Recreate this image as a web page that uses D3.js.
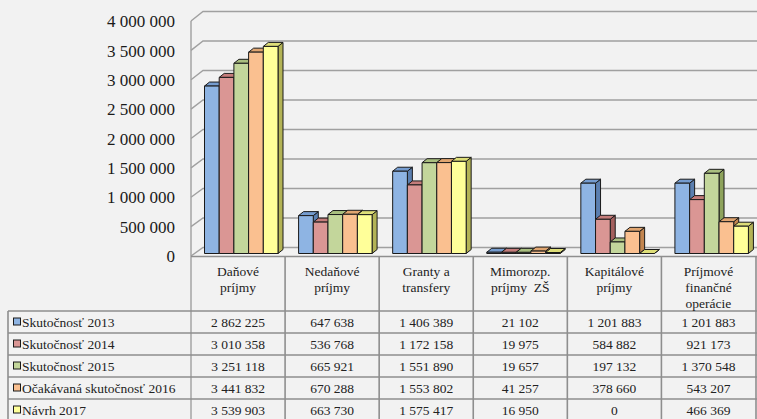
<!DOCTYPE html>
<html>
<head>
<meta charset="utf-8">
<script src="https://cdn.jsdelivr.net/npm/d3@7"></script>
<style>
  html, body { margin: 0; padding: 0; background: #f2f2f2; }
  .chart svg { display: block; }
  .chart text { font-family: 'Liberation Serif', 'Times New Roman', serif; }
</style>
</head>
<body>
<div class="chart"></div>
<script>
// data
const categories = [
  ['Daňové', 'príjmy'],
  ['Nedaňové', 'príjmy'],
  ['Granty a', 'transfery'],
  ['Mimorozp.', 'príjmy  ZŠ'],
  ['Kapitálové', 'príjmy'],
  ['Príjmové', 'finančné', 'operácie']
];
const seriesNames = ['Skutočnosť 2013', 'Skutočnosť 2014', 'Skutočnosť 2015',
                     'Očakávaná skutočnosť 2016', 'Návrh 2017'];
const values2013 = [2862225, 647638, 1406389, 21102, 1201883, 1201883];
const values2014 = [3010358, 536768, 1172158, 19975, 584882, 921173];
const values2015 = [3251118, 665921, 1551890, 19657, 197132, 1370548];
const values2016 = [3441832, 670288, 1553802, 41257, 378660, 543207];
const values2017 = [3539903, 663730, 1575417, 16950, 0, 466369];
const yTicks = [0, 500000, 1000000, 1500000, 2000000, 2500000, 3000000, 3500000, 4000000];

const seriesValues = [values2013, values2014, values2015, values2016, values2017];
const frontColors = ['#8eb4e3', '#da9694', '#c3d69b', '#fac090', '#ffff99'];
const topColors = ['#759ccf', '#c47c7a', '#a9bf7f', '#e0a570', '#dede78'];
const sideColors = ['#5b7fb0', '#a4605e', '#8ea35c', '#c2854f', '#b3b356'];

function drawChart() {
  const width = 757;
  const height = 419;
  const depth = {x: 12, y: -8.5};      // side wall depth
  const barDepth = {x: 5, y: -4};      // bar depth
  const grid = '#a0a0a0';
  const line = '#8e8e8e';

  const loc = d3.formatLocale({decimal: ',', thousands: '\u00a0', grouping: [3], currency: ['', '']});
  const fmt = loc.format(',d');

  const svg = d3.select('.chart')
                .append('svg:svg')
                .attr('width', width)
                .attr('height', height)
                .attr('viewBox', [0, 0, width, height]);

  const x = d3.scaleBand()
              .domain(d3.range(categories.length))
              .range([191, 755.5]);

  const xs = d3.scaleBand()
               .domain(d3.range(seriesNames.length))
               .range([13.5, 13.5 + 73.5]);

  const yFront = d3.scaleLinear().domain([0, 4000000]).range([256, 21]);
  const yBack = d3.scaleLinear().domain([0, 4000000]).range([247.5, 11.5]);
  const yBar = d3.scaleLinear().domain([0, 4000000]).range([253.5, 19.5]);

  // back wall gridlines + side wall
  const walls = svg.append('svg:g')
                   .attr('fill', 'none')
                   .attr('stroke', grid)
                   .attr('stroke-width', 1.4);

  walls.selectAll('polyline')
       .data(yTicks)
       .enter().append('svg:polyline')
       .attr('points', d => `191,${yFront(d)} ${191 + depth.x},${yBack(d)} ${width},${yBack(d)}`);

  walls.append('svg:line')
       .attr('x1', 191).attr('x2', 191)
       .attr('y1', yFront(4000000)).attr('y2', height);

  // y axis labels
  const yAxis = g => g
    .attr('transform', 'translate(183,0)')
    .call(d3.axisLeft(yFront).tickValues(yTicks).tickFormat(fmt).tickSize(0).tickPadding(8))
    .call(g => g.select('.domain').remove())
    .call(g => g.selectAll('text')
                .attr('font-size', 17)
                .attr('fill', '#1a1a1a')
                .attr('dy', '0.33em'));

  svg.append('svg:g').call(yAxis);

  // 3D bars
  const bars = [];
  categories.forEach((c, ci) => {
    seriesValues.forEach((vals, si) => {
      bars.push({ci, si, v: vals[ci]});
    });
  });

  const barG = svg.append('svg:g')
                  .attr('stroke', '#1a1a1a')
                  .attr('stroke-width', 1)
                  .attr('stroke-linejoin', 'round');

  bars.forEach(b => {
    const x0 = x(b.ci) + xs(b.si);
    const x1 = x0 + xs.bandwidth();
    const y0 = yBar(0);
    const y1 = yBar(b.v);
    const g = barG.append('svg:g');
    g.append('svg:path')
     .attr('fill', sideColors[b.si])
     .attr('d', `M${x1},${y1}L${x1 + barDepth.x},${y1 + barDepth.y}L${x1 + barDepth.x},${y0 + barDepth.y}L${x1},${y0}Z`);
    g.append('svg:path')
     .attr('fill', topColors[b.si])
     .attr('d', `M${x0},${y1}L${x0 + barDepth.x},${y1 + barDepth.y}L${x1 + barDepth.x},${y1 + barDepth.y}L${x1},${y1}Z`);
    g.append('svg:rect')
     .attr('fill', frontColors[b.si])
     .attr('x', x0)
     .attr('y', y1)
     .attr('width', xs.bandwidth())
     .attr('height', y0 - y1);
  });

  // data table
  const rowTop = 311;
  const rowH = 22;
  const tableLeft = 8;

  const table = svg.append('svg:g')
                   .attr('stroke', line)
                   .attr('stroke-width', 1.6);

  table.append('svg:line')
       .attr('x1', 191).attr('x2', width)
       .attr('y1', 256.5).attr('y2', 256.5);

  d3.range(seriesNames.length + 1).forEach(i => {
    table.append('svg:line')
         .attr('x1', tableLeft).attr('x2', width)
         .attr('y1', rowTop + i * rowH).attr('y2', rowTop + i * rowH);
  });

  table.append('svg:line')
       .attr('x1', tableLeft).attr('x2', tableLeft)
       .attr('y1', rowTop).attr('y2', height);

  d3.range(1, categories.length).forEach(i => {
    table.append('svg:line')
         .attr('x1', x(i)).attr('x2', x(i))
         .attr('y1', 256.5).attr('y2', height);
  });

  table.append('svg:line')
       .attr('x1', 756).attr('x2', 756)
       .attr('y1', 256.5).attr('y2', height);

  // header labels
  const header = svg.append('svg:g')
                    .attr('font-size', 13.5)
                    .attr('fill', '#222')
                    .attr('text-anchor', 'middle');

  categories.forEach((lines, ci) => {
    const t = header.append('svg:text')
                    .attr('x', x(ci) + x.bandwidth() / 2)
                    .attr('y', 276);
    lines.forEach((l, li) => {
      t.append('svg:tspan')
       .attr('x', x(ci) + x.bandwidth() / 2)
       .attr('y', 276 + li * 16)
       .style('white-space', 'pre')
       .text(l);
    });
  });

  // rows
  const rows = svg.append('svg:g')
                  .attr('font-size', 13.5)
                  .attr('fill', '#222');

  seriesNames.forEach((name, si) => {
    const cy = rowTop + si * rowH + rowH / 2;
    rows.append('svg:rect')
        .attr('x', 13.5).attr('y', cy - 4)
        .attr('width', 7).attr('height', 7)
        .attr('fill', frontColors[si])
        .attr('stroke', '#1a1a1a')
        .attr('stroke-width', 1);
    rows.append('svg:text')
        .attr('x', 22)
        .attr('y', cy + 5)
        .text(name);
    seriesValues[si].forEach((v, ci) => {
      rows.append('svg:text')
          .attr('x', x(ci) + x.bandwidth() / 2)
          .attr('y', cy + 5)
          .attr('text-anchor', 'middle')
          .text(fmt(v));
    });
  });
}

drawChart();
</script>
</body>
</html>
